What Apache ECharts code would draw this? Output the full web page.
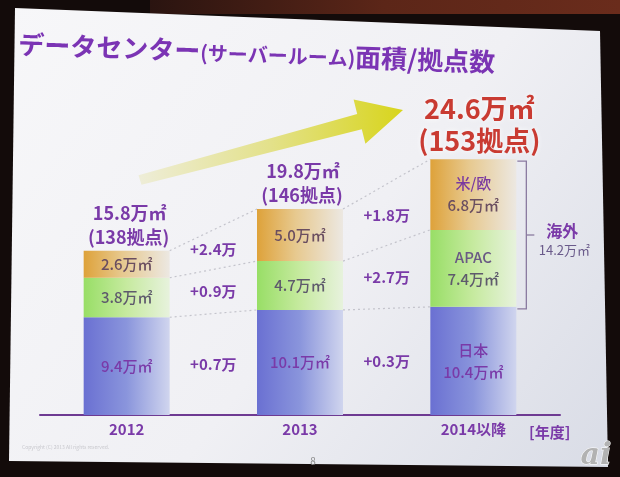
<!DOCTYPE html>
<html><head><meta charset="utf-8">
<script src="https://cdn.jsdelivr.net/npm/echarts@6/dist/echarts.min.js"></script>
<style>html,body{margin:0;padding:0;background:#120b0a;}#c{width:620px;height:477px;}</style>
</head><body><div id="c"></div>
<script>
// ---- data ----
const years = ['2012', '2013', '2014以降'];
const japan = [9.4, 10.1, 10.4];
const apac = [3.8, 4.7, 7.4];
const usEu = [2.6, 5.0, 6.8];
const totals = [15.8, 19.8, 24.6];
const sites = [138, 146, 153];
const incJapan = [0.7, 0.3];
const incApac = [0.9, 2.7];
const incUsEu = [2.4, 1.8];
const names2014 = ['日本', 'APAC', '米/欧'];
const overseas = 14.2;

const FONT = '"Noto Sans CJK JP", "Noto Sans", sans-serif';
const PURPLE = '#7a3aa8';
const RED = '#c93b32';
const BW = 86;

const chart = echarts.init(document.getElementById('c'));

function grad(stops) {
  return new echarts.graphic.LinearGradient(0, 0, 1, 0, stops.map(s => ({offset: s[0], color: s[1]})));
}

const cum = [0, 1, 2].map(i => [japan[i], japan[i] + apac[i], japan[i] + apac[i] + usEu[i]]);
const incs = [incJapan, incApac, incUsEu];

function barSeries(name, data, stops, nameColor, valColor, seg) {
  return {
    type: 'bar', name, stack: 's', data, barWidth: BW, z: 3, silent: true,
    itemStyle: {color: grad(stops)},
    label: {
      show: true, position: 'inside', fontFamily: FONT,
      formatter: p => p.dataIndex === 2
        ? `{n|${names2014[seg]}}\n{v|${p.value.toFixed(1)}万㎡}`
        : `{v|${p.value.toFixed(1)}万㎡}`,
      rich: {
        n: {fontFamily: FONT, fontSize: 15, fontWeight: 500, color: nameColor, lineHeight: 22},
        v: {fontFamily: FONT, fontSize: 15, fontWeight: 500, color: valColor, lineHeight: 22}
      }
    }
  };
}

const option = {
  animation: false,
  backgroundColor: 'transparent',
  grid: {left: 40, right: 60, top: 155, bottom: 62},
  xAxis: {
    type: 'category', data: years,
    axisLine: {lineStyle: {color: '#6e3a92', width: 2}},
    axisTick: {show: false},
    axisLabel: {color: PURPLE, fontFamily: FONT, fontSize: 15, fontWeight: 'bold', margin: 7}
  },
  yAxis: {type: 'value', min: 0, max: 25, show: false, splitLine: {show: false}},
  graphic: [
    {type: 'rect', z: -10, shape: {x: 0, y: 0, width: 620, height: 477}, style: {fill: '#130b0a'}},
    {type: 'rect', z: -9, shape: {x: 150, y: 0, width: 470, height: 14},
      style: {fill: new echarts.graphic.LinearGradient(0, 0, 1, 0, [{offset: 0, color: '#2a1410'}, {offset: 0.5, color: '#5c2618'}, {offset: 1, color: '#6a2c1c'}])}},
    {type: 'polygon', z: -8, shape: {points: [[15, 8], [600, 31], [608, 467], [9, 461]]},
      style: {fill: new echarts.graphic.LinearGradient(0, 0, 1, 1, [{offset: 0, color: '#f7f7f9'}, {offset: 0.55, color: '#f0f0f4'}, {offset: 1, color: '#d9dce6'}])}},
    {type: 'group', x: 18, y: 57, rotation: -0.036, z: 5, children: [
      {type: 'text', x: 0, y: 0, style: {text: 'データセンター', fill: '#7b34b4', font: 'bold 26px ' + FONT, verticalAlign: 'bottom'}},
      {type: 'text', x: 182, y: -1, style: {text: '(サーバールーム)', fill: '#7b34b4', font: 'bold 20px ' + FONT, verticalAlign: 'bottom'}},
      {type: 'text', x: 337, y: 1, style: {text: '面積/拠点数', fill: '#7b34b4', font: 'bold 26px ' + FONT, verticalAlign: 'bottom'}}
    ]},
    {type: 'polygon', z: 1, shape: {points: [[138.5, 175.2], [357.2, 113.9], [353.6, 99.4], [403, 110], [365.4, 143.8], [361.8, 129.3], [141.5, 184.8]]},
      style: {fill: new echarts.graphic.LinearGradient(0, 0, 1, 0, [{offset: 0, color: '#eeedd8'}, {offset: 0.5, color: '#e3e18a'}, {offset: 1, color: '#d8d51c'}])}},
    {type: 'text', x: 529, y: 432, z: 5, style: {text: '[年度]', fill: PURPLE, font: 'bold 15px ' + FONT, verticalAlign: 'middle'}},
    {type: 'text', x: 22, y: 447, z: 5, style: {text: 'Copyright (C) 2013 All rights reserved.', fill: '#c9c9ce', font: '5px ' + FONT, verticalAlign: 'middle'}},
    {type: 'text', x: 313, y: 461, z: 5, style: {text: '8', fill: '#8a8a8a', font: '10px ' + FONT, align: 'center', verticalAlign: 'middle'}},
    {type: 'text', x: 596, y: 456, z: 5, style: {text: 'ai', fill: '#b2b2b2', stroke: '#ffffff', lineWidth: 1, font: 'italic bold 30px "DejaVu Serif", serif', align: 'center', verticalAlign: 'middle'}}
  ],
  series: [
    barSeries('日本', japan, [[0, '#6a70d2'], [0.5, '#8a95dc'], [1, '#d0d5ee']], PURPLE, PURPLE, 0),
    barSeries('APAC', apac, [[0, '#98de66'], [0.5, '#c6ea9f'], [1, '#e7f2dd']], '#6a5a84', '#5e5a6c', 1),
    barSeries('米/欧', usEu, [[0, '#dea23a'], [0.45, '#e7c98f'], [1, '#ece8e2']], '#7a3aa0', '#6a4e60', 2),
    {
      type: 'custom', data: [[0], [1]], z: 2, silent: true,
      renderItem(params, api) {
        const i = api.value(0);
        const children = [];
        for (let k = 0; k < 3; k++) {
          const p1 = api.coord([i, cum[i][k]]);
          const p2 = api.coord([i + 1, cum[i + 1][k]]);
          children.push({type: 'line', shape: {x1: p1[0] + BW / 2, y1: p1[1], x2: p2[0] - BW / 2, y2: p2[1]},
            style: {stroke: '#c4c4cc', lineWidth: 1.2, lineDash: [2, 3]}});
          const lo1 = k === 0 ? 0 : cum[i][k - 1];
          const lo2 = k === 0 ? 0 : cum[i + 1][k - 1];
          const m1 = api.coord([i, (lo1 + cum[i][k]) / 2])[1];
          const m2 = api.coord([i + 1, (lo2 + cum[i + 1][k]) / 2])[1];
          children.push({type: 'text', x: (p1[0] + p2[0]) / 2, y: (m1 + m2) / 2,
            style: {text: '+' + incs[k][i].toFixed(1) + '万', fill: PURPLE, font: 'bold 15px ' + FONT, align: 'center', verticalAlign: 'middle'}});
        }
        return {type: 'group', children};
      }
    },
    {
      type: 'custom', data: [[0], [1], [2]], z: 4, silent: true,
      renderItem(params, api) {
        const i = api.value(0);
        const top = api.coord([i, totals[i]]);
        const children = [];
        if (i < 2) {
          children.push({type: 'text', x: top[0] + 3, y: top[1] - 38,
            style: {text: totals[i].toFixed(1) + '万㎡', fill: PURPLE, font: 'bold 18px ' + FONT, align: 'center', verticalAlign: 'middle'}});
          children.push({type: 'text', x: top[0] + 2, y: top[1] - 14,
            style: {text: '(' + sites[i] + '拠点)', fill: PURPLE, font: 'bold 18px ' + FONT, align: 'center', verticalAlign: 'middle'}});
        } else {
          children.push({type: 'text', x: top[0] + 6, y: top[1] - 50,
            style: {text: totals[i].toFixed(1) + '万㎡', fill: RED, font: 'bold 27px ' + FONT, align: 'center', verticalAlign: 'middle',
              textShadowColor: 'rgba(255,255,255,0.9)', textShadowBlur: 4}});
          children.push({type: 'text', x: top[0] + 6, y: top[1] - 18,
            style: {text: '(' + sites[i] + '拠点)', fill: RED, font: 'bold 27px ' + FONT, align: 'center', verticalAlign: 'middle',
              textShadowColor: 'rgba(255,255,255,0.9)', textShadowBlur: 4}});
          const bot = api.coord([i, cum[i][0]]);
          const xr = top[0] + BW / 2 + 10;
          const yt = top[1] + 2, yb = bot[1] + 2;
          const ym = (yt + yb) / 2;
          children.push({type: 'polyline', shape: {points: [[xr - 9, yt], [xr, yt], [xr, yb], [xr - 9, yb]]},
            style: {stroke: '#8a7aa0', lineWidth: 1.3, fill: null}});
          children.push({type: 'line', shape: {x1: xr, y1: ym, x2: xr + 8, y2: ym}, style: {stroke: '#8a7aa0', lineWidth: 1.3}});
          children.push({type: 'text', x: xr + 36, y: ym - 4,
            style: {text: '海外', fill: PURPLE, font: 'bold 16px ' + FONT, align: 'center', verticalAlign: 'middle'}});
          children.push({type: 'text', x: xr + 38, y: ym + 15,
            style: {text: overseas.toFixed(1) + '万㎡', fill: '#6a5a8a', font: '13px ' + FONT, align: 'center', verticalAlign: 'middle'}});
        }
        return {type: 'group', children};
      }
    }
  ]
};
chart.setOption(option);
</script>
</body></html>
